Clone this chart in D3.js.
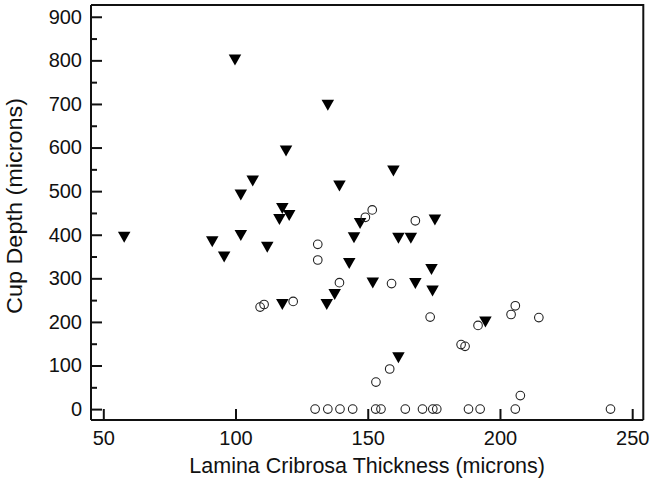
<!DOCTYPE html>
<html>
<head>
<meta charset="utf-8">
<script src="https://cdn.jsdelivr.net/npm/d3@7"></script>
<style>
  html, body { margin: 0; padding: 0; background: #fff; }
  svg { display: block; }
  text { font-family: "Liberation Sans", Arial, sans-serif; fill: #111; }
</style>
</head>
<body>
<svg id="chart" width="654" height="486"></svg>
<script>
// ---- data ----
const xTicks = [50, 100, 150, 200, 250];
const yTicks = [0, 100, 200, 300, 400, 500, 600, 700, 800, 900];
const yMinorTicks = [50, 150, 250, 350, 450, 550, 650, 750, 850];
const xTitle = "Lamina Cribrosa Thickness (microns)";
const yTitle = "Cup Depth (microns)";

// filled down-triangles
const triX = [57.9, 91.2, 95.7, 99.8, 102.0, 106.5, 102.0, 112.0, 116.6, 117.7,
              120.3, 117.7, 119.1, 134.9, 139.3, 159.7, 147.1, 144.8, 175.4, 161.6,
              166.3, 143.0, 174.1, 151.9, 168.0, 174.5, 137.5, 134.5, 161.6, 194.5];
const triY = [394, 384, 349, 801, 491, 523, 398, 371, 435, 460,
              444, 240, 592, 697, 512, 546, 426, 393, 434, 392,
              392, 334, 320, 289, 288, 271, 263, 240, 118, 200];

// open circles
const circX = [109.3, 110.8, 121.8, 151.7, 149.1, 168.0, 131.1, 131.1, 139.3, 159.0,
               173.6, 158.3, 153.1, 185.3, 186.8, 191.7, 207.7, 205.8, 204.2, 214.7,
               130.1, 134.9, 139.5, 144.3, 153.0, 155.0, 164.2, 170.7, 174.6, 176.1,
               188.1, 192.5, 205.8, 241.8];
const circY = [234, 240, 247, 457, 440, 432, 378, 342, 290, 288,
               211, 92, 62, 148, 144, 192, 31, 237, 217, 210,
               0, 0, 0, 0, 0, 0, 0, 0, 0, 0,
               0, 0, 0, 0];

// ---- layout ----
const svg = d3.select("#chart");
const L = 91, R = 643.3, T = 5, B = 420;
const x = d3.scaleLinear().domain([45.35, 254.2]).range([L, R]);
const y = d3.scaleLinear().domain([-25, 927]).range([B, T]);

// frame (top & right)
svg.append("path")
  .attr("d", `M${L},${T}H${R}V${B}`)
  .attr("fill", "none").attr("stroke", "#111").attr("stroke-width", 2);

// y axis
const yAxis = svg.append("g").attr("transform", `translate(${L},0)`)
  .call(d3.axisLeft(y).tickValues(yTicks).tickSize(-11).tickPadding(9));
svg.append("g").attr("transform", `translate(${L},0)`)
  .call(d3.axisLeft(y).tickValues(yMinorTicks).tickSize(-6).tickFormat(""))
  .call(g => g.select(".domain").remove());

// x axis
const xAxis = svg.append("g").attr("transform", `translate(0,${B})`)
  .call(d3.axisBottom(x).tickValues(xTicks).tickSize(-11).tickPadding(11));

svg.selectAll(".domain").attr("stroke", "#111").attr("stroke-width", 2);
svg.selectAll(".tick line").attr("stroke", "#111").attr("stroke-width", 2);
svg.selectAll(".tick text").attr("font-size", 20)
  .attr("font-family", "'Liberation Sans', Arial, sans-serif").attr("fill", "#111");
yAxis.select(".domain").attr("d", `M0,${B}V${T}`);
xAxis.select(".domain").attr("d", `M${L},0H${R}`);

// titles
svg.append("text")
  .attr("x", (L + R) / 2).attr("y", 473)
  .attr("text-anchor", "middle").attr("font-size", 21.5)
  .text(xTitle);
svg.append("text")
  .attr("transform", `translate(22,${206}) rotate(-90)`)
  .attr("text-anchor", "middle").attr("font-size", 22)
  .attr("textLength", 216).attr("lengthAdjust", "spacingAndGlyphs")
  .text(yTitle);

// markers
const tri = triX.map((v, i) => ({ x: v, y: triY[i] }));
const circ = circX.map((v, i) => ({ x: v, y: circY[i] }));

const tw = 12.5, th = 11;
svg.append("g").selectAll("path").data(tri).join("path")
  .attr("d", d => {
    const cx = x(d.x), cy = y(d.y);
    return `M${cx - tw / 2},${cy - th / 2}L${cx + tw / 2},${cy - th / 2}L${cx},${cy + th / 2}Z`;
  })
  .attr("fill", "#000");

svg.append("g").selectAll("circle").data(circ).join("circle")
  .attr("cx", d => x(d.x)).attr("cy", d => y(d.y)).attr("r", 4.3)
  .attr("fill", "none").attr("stroke", "#222").attr("stroke-width", 1.1);
</script>
</body>
</html>
